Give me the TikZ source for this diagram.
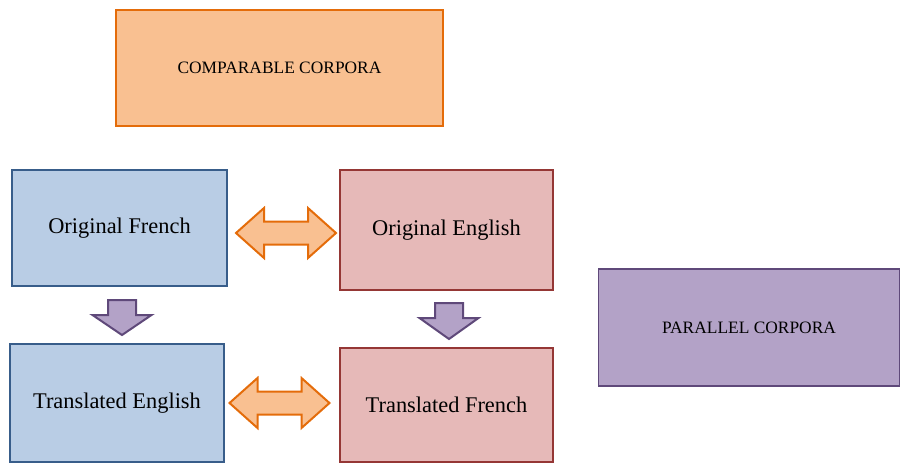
\documentclass[tikz,border=0pt]{standalone}
\usepackage{fontspec}
\setmainfont{Liberation Serif}
\definecolor{peach}{HTML}{F9C091}
\definecolor{orangeline}{HTML}{E46C0A}
\definecolor{bluefill}{HTML}{B9CDE5}
\definecolor{blueline}{HTML}{385D8A}
\definecolor{redfill}{HTML}{E6B9B8}
\definecolor{redline}{HTML}{953735}
\definecolor{purplefill}{HTML}{B3A2C7}
\definecolor{purpleline}{HTML}{5F497A}
\tikzset{
  corpusbox/.style={draw, line width=0.9pt, inner sep=0pt, font=\fontsize{8.7}{10}\selectfont},
  textbox/.style={draw, line width=1pt, inner sep=0pt, font=\fontsize{11.2}{13}\selectfont},
  frbox/.style={textbox, fill=bluefill, draw=blueline},
  enbox/.style={textbox, fill=redfill, draw=redline},
  swaparrow/.style={fill=peach, draw=orangeline, line width=1pt, line join=miter},
  downarrow/.style={fill=purplefill, draw=purpleline, line width=1pt, line join=miter}
}
\begin{document}
\begin{tikzpicture}[x=0.5pt,y=-0.5pt]
\useasboundingbox (0,0) rectangle (900,463);
\node[corpusbox, fill=peach, draw=orangeline, minimum width=163.5pt, minimum height=58pt] (comp) at (279.5,68) {COMPARABLE CORPORA};
\node[corpusbox, fill=purplefill, draw=purpleline, minimum width=150.5pt, minimum height=58.5pt] (par) at (749,327.5) {PARALLEL CORPORA};
\node[frbox, minimum width=107.5pt, minimum height=58pt] (ofr) at (119.5,228) {Original French};
\node[enbox, minimum width=106.5pt, minimum height=60pt] (oen) at (446.5,230) {Original English};
\node[frbox, minimum width=107pt, minimum height=59pt] (ten) at (117,403) {Translated English};
\node[enbox, minimum width=106.5pt, minimum height=57pt] (tfr) at (446.5,405) {Translated French};
% block arrows between the boxes
\coordinate (top) at (286,233);
\coordinate (bottom) at (279.5,403);
\coordinate (left) at (122,300);
\coordinate (right) at (449,303);
\draw[swaparrow] (top) ++(-50,0) -- ++(28,-25) -- ++(0,13.5) -- ++(44,0) -- ++(0,-13.5) -- ++(28,25) -- ++(-28,25) -- ++(0,-13.5) -- ++(-44,0) -- ++(0,13.5) -- cycle;
\draw[swaparrow] (bottom) ++(-50,0) -- ++(28,-25) -- ++(0,13.5) -- ++(44,0) -- ++(0,-13.5) -- ++(28,25) -- ++(-28,25) -- ++(0,-13.5) -- ++(-44,0) -- ++(0,13.5) -- cycle;
\draw[downarrow] (left) ++(-14,0) -- ++(28,0) -- ++(0,15) -- ++(15.5,0) -- ++(-29.5,20) -- ++(-29.5,-20) -- ++(15.5,0) -- cycle;
\draw[downarrow] (right) ++(-14,0) -- ++(28,0) -- ++(0,15) -- ++(15.5,0) -- ++(-29.5,21) -- ++(-29.5,-21) -- ++(15.5,0) -- cycle;
\end{tikzpicture}
\end{document}
